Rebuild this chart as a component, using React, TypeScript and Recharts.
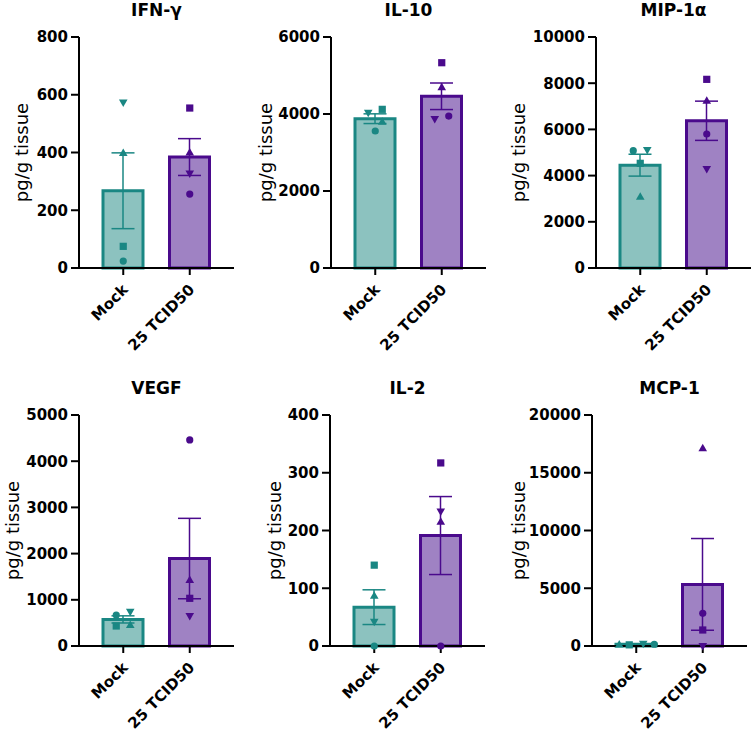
import React from 'react'
import { Bar, ComposedChart, ErrorBar, Line, XAxis, YAxis } from 'recharts'

const GROUPS = ['Mock', '25 TCID50']
// point order in every list below: circle, square, triangle up, triangle down
const MARKERS = ['circle', 'square', 'triUp', 'triDown']

const IFNG_MOCK = [24, 75, 398, 573]
const IFNG_TCID = [256, 554, 400, 327]
const IFNG_TICKS = [0, 200, 400, 600, 800]

const IL10_MOCK = [3558, 4121, 3800, 4033]
const IL10_TCID = [3947, 5332, 4693, 3869]
const IL10_TICKS = [0, 2000, 4000, 6000]

const MIP_MOCK = [5078, 4532, 3087, 5108]
const MIP_TCID = [5800, 8167, 7242, 4286]
const MIP_TICKS = [0, 2000, 4000, 6000, 8000, 10000]

const VEGF_MOCK = [671, 433, 455, 743]
const VEGF_TCID = [4460, 1032, 1429, 650]
const VEGF_TICKS = [0, 1000, 2000, 3000, 4000, 5000]

const IL2_MOCK = [0, 140, 87, 42]
const IL2_TCID = [0, 317, 215, 233]
const IL2_TICKS = [0, 100, 200, 300, 400]

const MCP_MOCK = [150, 100, 120, 200]
const MCP_TCID = [2830, 1386, 17120, 0]
const MCP_TICKS = [0, 5000, 10000, 15000, 20000]

const TEAL = '#1a8783'
const TEAL_FILL = '#8cc2bf'
const PURPLE = '#4a0a8c'
const PURPLE_FILL = '#9f82c3'
const FONT = '"DejaVu Sans", sans-serif'
const PLOT_W = 155
const PLOT_TOP = 37
const PLOT_H = 231
const CHART_H = 378

const mean = (v: number[]) => v.reduce((a, b) => a + b, 0) / v.length
const sem = (v: number[]) => {
  const m = mean(v)
  const sd = Math.sqrt(v.reduce((a, b) => a + (b - m) ** 2, 0) / (v.length - 1))
  return sd / Math.sqrt(v.length)
}

const panels = [
  { title: 'IFN-γ', mock: IFNG_MOCK, tcid: IFNG_TCID, ticks: IFNG_TICKS, left: 0, top: 0, axisX: 79, labelX: 21,
    jitter: [[0, 0, 0, 0], [0, 0, 0, 0]] },
  { title: 'IL-10', mock: IL10_MOCK, tcid: IL10_TCID, ticks: IL10_TICKS, left: 250, top: 0, axisX: 81, labelX: 15,
    jitter: [[0, 7, 7, -7], [7, 0, 0, -7]] },
  { title: 'MIP-1α', mock: MIP_MOCK, tcid: MIP_TCID, ticks: MIP_TICKS, left: 500, top: 0, axisX: 96, labelX: 18,
    jitter: [[-7, 0, 0, 7], [0, 0, 0, 0]] },
  { title: 'VEGF', mock: VEGF_MOCK, tcid: VEGF_TCID, ticks: VEGF_TICKS, left: 0, top: 378, axisX: 79, labelX: 12,
    jitter: [[-7, -7, 7, 7], [0, 0, 0, 0]] },
  { title: 'IL-2', mock: IL2_MOCK, tcid: IL2_TCID, ticks: IL2_TICKS, left: 250, top: 378, axisX: 80, labelX: 24,
    jitter: [[0, 0, 0, 0], [0, 0, 0, 0]] },
  { title: 'MCP-1', mock: MCP_MOCK, tcid: MCP_TCID, ticks: MCP_TICKS, left: 500, top: 378, axisX: 92, labelX: 18,
    jitter: [[18, -7, -17, 7], [0, 0, 0, 0]] },
]

function Marker({ kind, cx, cy, color }: { kind: string; cx: number; cy: number; color: string }) {
  if (kind === 'circle') return <circle cx={cx} cy={cy} r={3.6} fill={color} />
  if (kind === 'square') return <rect x={cx - 3.6} y={cy - 3.6} width={7.2} height={7.2} fill={color} />
  if (kind === 'triUp')
    return <polygon points={`${cx},${cy - 4.5} ${cx + 4.3},${cy + 3} ${cx - 4.3},${cy + 3}`} fill={color} />
  return <polygon points={`${cx},${cy + 4.5} ${cx + 4.3},${cy - 3} ${cx - 4.3},${cy - 3}`} fill={color} />
}

function XTick({ x, y, payload }: any) {
  const ax = x + 2
  const ay = y + 10
  return (
    <text x={ax} y={ay} transform={`rotate(-45 ${ax} ${ay})`} textAnchor="end" dominantBaseline="central"
      fontFamily={FONT} fontWeight="bold" fontSize={15} fill="#000">
      {payload.value}
    </text>
  )
}

function Panel({ p }: { p: (typeof panels)[number] }) {
  const data = [
    { name: GROUPS[0], mockMean: mean(p.mock), mockSem: sem(p.mock),
      ...Object.fromEntries(MARKERS.map((m, i) => [m, p.mock[i]])) },
    { name: GROUPS[1], tcidMean: mean(p.tcid), tcidSem: sem(p.tcid),
      ...Object.fromEntries(MARKERS.map((m, i) => [m, p.tcid[i]])) },
  ]
  const top = p.ticks[p.ticks.length - 1]
  const labelY = PLOT_TOP + PLOT_H / 2
  return (
    <div style={{ position: 'absolute', left: p.left, top: p.top }}>
      <div style={{ position: 'absolute', left: p.axisX, top: 0, width: PLOT_W, textAlign: 'center', lineHeight: '20px',
        fontFamily: FONT, fontWeight: 'bold', fontSize: 17, color: '#000' }}>{p.title}</div>
      <ComposedChart width={p.axisX + PLOT_W} height={CHART_H} data={data}
        margin={{ top: PLOT_TOP, right: 0, bottom: 0, left: 0 }}>
        <XAxis dataKey="name" type="category" interval={0} height={CHART_H - PLOT_TOP - PLOT_H}
          padding={{ left: 11, right: 11 }} tickSize={7} tickLine={{ stroke: '#000', strokeWidth: 2 }}
          axisLine={{ stroke: '#000', strokeWidth: 2 }} tick={<XTick />} />
        <YAxis width={p.axisX} domain={[0, top]} ticks={p.ticks} interval={0} tickSize={8} tickMargin={3}
          tickLine={{ stroke: '#000', strokeWidth: 2 }} axisLine={{ stroke: '#000', strokeWidth: 2 }}
          tick={{ fontFamily: FONT, fontWeight: 'bold', fontSize: 15, fill: '#000' }}
          label={{
            value: 'pg/g tissue',
            content: () => (
              <text x={p.labelX} y={labelY} transform={`rotate(-90 ${p.labelX} ${labelY})`} textAnchor="middle"
                dominantBaseline="central" fontFamily={FONT} fontSize={18} fill="#000">pg/g tissue</text>
            ),
          }} />
        <Bar dataKey="mockMean" stackId="s" barSize={40} fill={TEAL_FILL} stroke={TEAL} strokeWidth={3}
          isAnimationActive={false}>
          <ErrorBar dataKey="mockSem" width={11.5} stroke={TEAL} strokeWidth={1.5} direction="y" />
        </Bar>
        <Bar dataKey="tcidMean" stackId="s" barSize={40} fill={PURPLE_FILL} stroke={PURPLE} strokeWidth={3}
          isAnimationActive={false}>
          <ErrorBar dataKey="tcidSem" width={11.5} stroke={PURPLE} strokeWidth={1.5} direction="y" />
        </Bar>
        {MARKERS.map((m, mi) => (
          <Line key={m} dataKey={m} stroke="none" legendType="none" activeDot={false} isAnimationActive={false}
            dot={(d: any) => (
              <Marker key={`${m}-${d.index}`} kind={m} cx={d.cx + p.jitter[d.index][mi]} cy={d.cy}
                color={d.index === 0 ? TEAL : PURPLE} />
            )} />
        ))}
      </ComposedChart>
    </div>
  )
}

export default function App() {
  return (
    <div style={{ position: 'absolute', left: 0, top: 0, width: 751, height: 731, overflow: 'hidden', background: '#fff' }}>
      {panels.map((p) => <Panel key={p.title} p={p} />)}
    </div>
  )
}
